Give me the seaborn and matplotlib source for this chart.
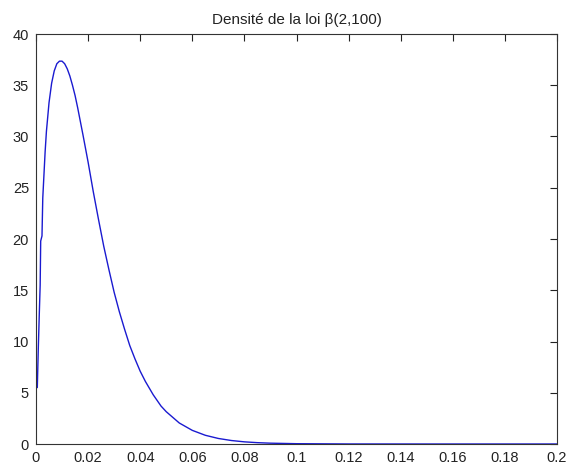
import matplotlib
matplotlib.use("Agg")
import matplotlib.pyplot as plt
import seaborn as sns
import pandas as pd

x_vals = [0.0005, 0.0009, 0.0013, 0.0016, 0.0018, 0.0023, 0.0026, 0.003, 0.0035, 0.004,
          0.005, 0.006, 0.007, 0.008, 0.009, 0.010, 0.011, 0.012, 0.013, 0.014,
          0.015, 0.016, 0.018, 0.020, 0.022, 0.024, 0.026, 0.028, 0.030, 0.032,
          0.034, 0.036, 0.038, 0.040, 0.042, 0.045, 0.048, 0.050, 0.055, 0.060,
          0.065, 0.070, 0.075, 0.080, 0.085, 0.090, 0.100, 0.120, 0.150, 0.200]
y_vals = [5.5, 9.5, 13.0, 15.5, 19.8, 20.3, 24.0, 26.0, 28.5, 30.5,
          33.3, 35.2, 36.4, 37.1, 37.35, 37.35, 37.1, 36.6, 35.9, 35.0,
          34.0, 32.8, 30.2, 27.5, 24.6, 21.9, 19.3, 17.0, 14.8, 12.9,
          11.2, 9.6, 8.3, 7.1, 6.1, 4.8, 3.7, 3.15, 2.05, 1.33,
          0.85, 0.54, 0.34, 0.21, 0.13, 0.08, 0.03, 0.004, 0.0, 0.0]

x_ticks = [0, 0.02, 0.04, 0.06, 0.08, 0.1, 0.12, 0.14, 0.16, 0.18, 0.2]
x_tick_labels = ["0", "0.02", "0.04", "0.06", "0.08", "0.1", "0.12", "0.14", "0.16", "0.18", "0.2"]
y_ticks = [0, 5, 10, 15, 20, 25, 30, 35, 40]
y_tick_labels = ["0", "5", "10", "15", "20", "25", "30", "35", "40"]
title = "Densité de la loi β(2,100)"

df = pd.DataFrame({"x": x_vals, "y": y_vals})

sns.set_style("white")
plt.rcParams["font.family"] = ["Liberation Sans", "DejaVu Sans"]

fig = plt.figure(figsize=(5.68, 4.69), dpi=100)
ax = fig.add_axes([36 / 568, 25 / 469, 521 / 568, 410 / 469])
sns.lineplot(data=df, x="x", y="y", ax=ax, sort=False, color="#1a1ad0", linewidth=1.0)

ax.set_xlim(0, 0.2)
ax.set_ylim(0, 40)
ax.set_xticks(x_ticks)
ax.set_xticklabels(x_tick_labels)
ax.set_yticks(y_ticks)
ax.set_yticklabels(y_tick_labels)
ax.set_xlabel("")
ax.set_ylabel("")
ax.tick_params(direction="in", length=5, width=0.8, top=True, right=True,
               labelsize=10.5, colors="#222222")
ax.tick_params(axis="x", pad=5)
ax.tick_params(axis="y", pad=5)
for s in ax.spines.values():
    s.set_color("#333333")
    s.set_linewidth(0.8)
ax.set_title(title, fontsize=11, pad=7, color="#222222")

fig.savefig("out.png", dpi=100)
